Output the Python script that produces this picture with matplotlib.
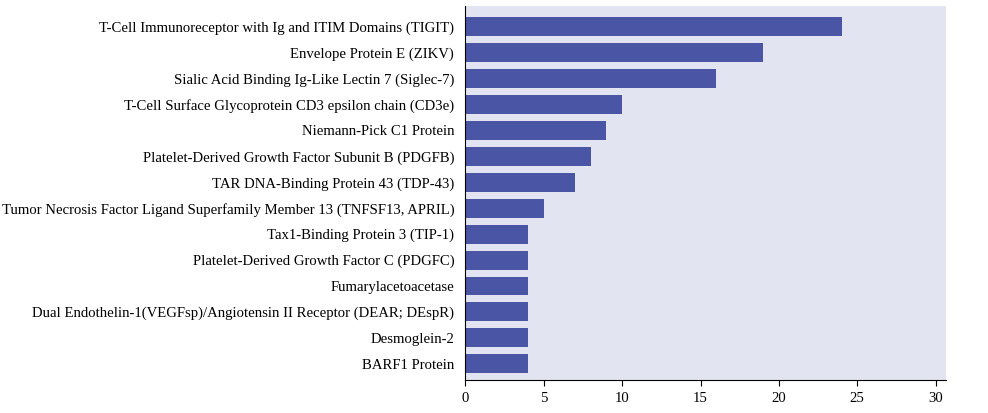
import matplotlib
matplotlib.use('Agg')
import matplotlib.pyplot as plt
import numpy as np

plt.rcParams['font.family'] = ['Liberation Serif', 'DejaVu Serif']

labels = [
    'T-Cell Immunoreceptor with Ig and ITIM Domains (TIGIT)',
    'Envelope Protein E (ZIKV)',
    'Sialic Acid Binding Ig-Like Lectin 7 (Siglec-7)',
    'T-Cell Surface Glycoprotein CD3 epsilon chain (CD3e)',
    'Niemann-Pick C1 Protein',
    'Platelet-Derived Growth Factor Subunit B (PDGFB)',
    'TAR DNA-Binding Protein 43 (TDP-43)',
    'Tumor Necrosis Factor Ligand Superfamily Member 13 (TNFSF13, APRIL)',
    'Tax1-Binding Protein 3 (TIP-1)',
    'Platelet-Derived Growth Factor C (PDGFC)',
    'Fumarylacetoacetase',
    'Dual Endothelin-1(VEGFsp)/Angiotensin II Receptor (DEAR; DEspR)',
    'Desmoglein-2',
    'BARF1 Protein',
]
counts = [24, 19, 16, 10, 9, 8, 7, 5, 4, 4, 4, 4, 4, 4]
xticks = [0, 5, 10, 15, 20, 25, 30]

fig = plt.figure(figsize=(9.88, 4.13), dpi=100)
ax = fig.add_axes([0.471, 0.080, 0.4865, 0.9055])
ax.set_facecolor('#e2e4f2')

y = np.arange(len(labels))
ax.barh(y, counts, height=0.73, color='#4b55a5')
ax.set_yticks(y)
ax.set_yticklabels(labels, fontsize=10.6)
ax.set_ylim(len(labels) - 1 + 0.62, -0.79)
ax.set_xlim(0, 30.66)
ax.set_xticks(xticks)
ax.tick_params(axis='x', labelsize=10.6, length=4, pad=5)
ax.tick_params(axis='y', length=0, pad=8)

for s in ['top', 'right']:
    ax.spines[s].set_visible(False)

fig.savefig('out.png', dpi=100)
